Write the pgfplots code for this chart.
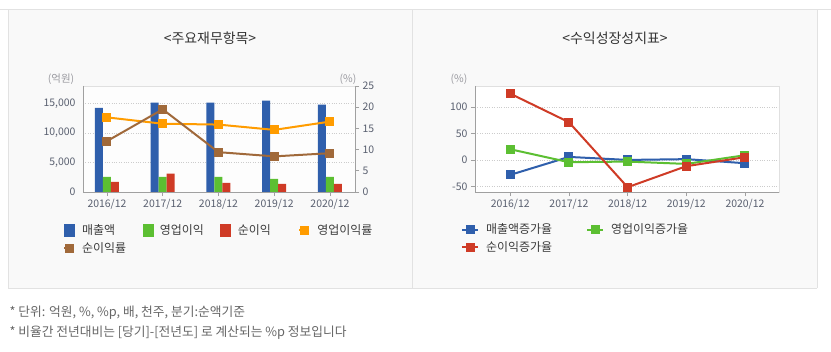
\documentclass[border=0pt]{standalone}
\usepackage{fontspec}
\setmainfont{Noto Sans CJK KR}
\usepackage{pgfplots}
\pgfplotsset{compat=1.18}
\definecolor{cblue}{HTML}{2F5FAC}
\definecolor{cgreen}{HTML}{5CBF32}
\definecolor{cred}{HTML}{CF3B26}
\definecolor{corange}{HTML}{FF9C00}
\definecolor{cbrown}{HTML}{A0693A}
\definecolor{panel}{HTML}{F9F9F9}
\definecolor{pborder}{HTML}{E2E2E2}
\definecolor{axgray}{HTML}{A0A0A0}
\definecolor{boxgray}{HTML}{E0E0E0}
\definecolor{tickc}{HTML}{5A6070}
\definecolor{titlec}{HTML}{333333}
\definecolor{unitc}{HTML}{9A9AA0}
\definecolor{legc}{HTML}{3C3C3C}
\definecolor{notec}{HTML}{666666}
\pgfplotsset{
  base/.style={
    scale only axis, height=106bp,
    /pgf/number format/assume math mode=true,
    tick label style={font=\fontsize{10.5}{11}\selectfont, text=tickc},
    tick style={axgray, line width=0.8bp},
    major tick length=4bp,
    tick align=outside,
    scaled y ticks=false,
    xtick={0,1,2,3,4},
    xticklabels={2016/12,2017/12,2018/12,2019/12,2020/12},
    grid style={dotted, gray!40, line width=0.7bp},
    legend style={draw=none, fill=none, inner sep=0pt, outer sep=0pt,
      nodes={inner sep=0pt, anchor=base west, font=\fontsize{12}{13}\selectfont, text=legc},
      column sep=0pt, row sep=6bp},
    legend cell align=left,
  },
  shortleg/.style={legend image code/.code={\draw[##1, mark repeat=2, mark phase=2] plot coordinates {(0bp,4bp) (5bp,4bp) (10bp,4bp)};}},
  longleg/.style={legend image code/.code={\draw[##1, mark repeat=2, mark phase=2] plot coordinates {(0bp,4bp) (8bp,4bp) (16bp,4bp)};}},
  barleg/.style={legend image code/.code={\fill[#1] (0bp,-2bp) rectangle (10bp,10bp);}},
  ser/.style={#1, line width=2bp, mark=square*, mark size=3.5bp, mark options={solid}},
}
\begin{document}
\begin{tikzpicture}[x=1bp,y=1bp]
\path[use as bounding box] (0,0) rectangle (831,351);
\fill[white] (0,0) rectangle (831,351);
\fill[panel] (8,63) rectangle (817,342);
\draw[pborder, line width=0.8bp] (0,342) -- (831,342);
\draw[pborder, line width=0.8bp] (8,63) -- (817,63);
\draw[pborder, line width=0.8bp] (8,63) -- (8,342);
\draw[pborder, line width=0.8bp] (817,63) -- (817,342);
\draw[pborder, line width=0.8bp] (412,63) -- (412,342);

\node[font=\fontsize{14}{14}\selectfont, text=titlec] at (210,313) {<주요재무항목>};
\node[font=\fontsize{14}{14}\selectfont, text=titlec] at (615,313) {<수익성장성지표>};
\node[font=\fontsize{10.5}{11}\selectfont, text=unitc] at (61,272) {(억원)};
\node[font=\fontsize{10.5}{11}\selectfont, text=unitc] at (348,272) {(\%)};
\node[font=\fontsize{10.5}{11}\selectfont, text=unitc] at (459,272) {(\%)};

% Left chart: bars
\begin{axis}[base, at={(83bp,159bp)}, anchor=south west, width=272bp,
  xmin=-0.43, xmax=4.45, ymin=0, ymax=18000,
  ytick={0,5000,10000,15000}, ymajorgrids,
  axis lines=box, axis line style={boxgray, line width=0.8bp},
  ytick style={draw=none}, xtick pos=bottom, ytick pos=left,
  axis background/.style={fill=white!60!panel},
  after end axis/.code={\draw[axgray, line width=0.9bp] (rel axis cs:0,1) -- (rel axis cs:0,0) -- (rel axis cs:1,0);},
]
\addplot[ybar, bar width=8bp, bar shift=-8bp, fill=cblue, draw=none] coordinates {(0,14300) (1,15170) (2,15170) (3,15510) (4,14830)};
\addplot[ybar, bar width=8bp, bar shift=0bp, fill=cgreen, draw=none] coordinates {(0,2560) (1,2560) (2,2560) (3,2220) (4,2560)};
\addplot[ybar, bar width=8bp, bar shift=8bp, fill=cred, draw=none] coordinates {(0,1700) (1,3120) (2,1530) (3,1360) (4,1360)};
\end{axis}

% Left chart: ratio lines
\begin{axis}[base, at={(83bp,159bp)}, anchor=south west, width=272bp,
  xmin=-0.43, xmax=4.45, ymin=0, ymax=25,
  ytick={0,5,10,15,20,25},
  axis y line*=right, axis x line=none,
  axis line style={axgray, line width=0.9bp},
  legend columns=4,
  legend style={at={(-0.0735,-0.30)}, anchor=north west},
]
\addlegendimage{barleg=cblue}
\addlegendentry{\makebox[67.5bp][l]{\hspace*{7bp}매출액}}
\addlegendimage{barleg=cgreen}
\addlegendentry{\makebox[67.5bp][l]{\hspace*{7bp}영업이익}}
\addlegendimage{barleg=cred}
\addlegendentry{\makebox[67.5bp][l]{\hspace*{7bp}순이익}}
\addplot[ser=corange, shortleg] coordinates {(0,17.6) (1,16.1) (2,15.9) (3,14.65) (4,16.6)};
\addlegendentry{\makebox[67.5bp][l]{\hspace*{7bp}영업이익률}}
\addplot[ser=cbrown, shortleg] coordinates {(0,12.0) (1,19.5) (2,9.4) (3,8.4) (4,9.15)};
\addlegendentry{\makebox[67.5bp][l]{\hspace*{7bp}순이익률}}
\end{axis}

% Right chart
\begin{axis}[base, at={(475bp,159bp)}, anchor=south west, width=304bp,
  xmin=-0.6, xmax=4.58, ymin=-60, ymax=140,
  ytick={-50,0,50,100}, ymajorgrids,
  axis lines=box, axis line style={boxgray, line width=0.8bp},
  xtick pos=bottom, ytick pos=left,
  axis background/.style={fill=white},
  after end axis/.code={\draw[axgray, line width=0.9bp] (rel axis cs:0,1) -- (rel axis cs:0,0) -- (rel axis cs:1,0);},
  legend columns=2,
  legend style={at={(-0.046,-0.30)}, anchor=north west},
]
\addplot[ser=cblue, longleg] coordinates {(0,-27.7) (1,6.2) (2,0.5) (3,2) (4,-5.7)};
\addlegendentry{\makebox[107bp][l]{\hspace*{7bp}매출액증가율}}
\addplot[ser=cgreen, longleg] coordinates {(0,20.7) (1,-3.8) (2,-2.6) (3,-7) (4,9.4)};
\addlegendentry{\makebox[107bp][l]{\hspace*{7bp}영업이익증가율}}
\addplot[ser=cred, longleg] coordinates {(0,125.6) (1,71.7) (2,-51) (3,-11.3) (4,5.6)};
\addlegendentry{\makebox[107bp][l]{\hspace*{7bp}순이익증가율}}
\end{axis}

\node[anchor=west, font=\fontsize{12.8}{13}\selectfont, text=notec] at (6,38) {* 단위: 억원, \%, \%p, 배, 천주, 분기:순액기준};
\node[anchor=west, font=\fontsize{12.8}{13}\selectfont, text=notec] at (6,18) {* 비율간 전년대비는 [당기]-[전년도] 로 계산되는 \%p 정보입니다};
\end{tikzpicture}
\end{document}
